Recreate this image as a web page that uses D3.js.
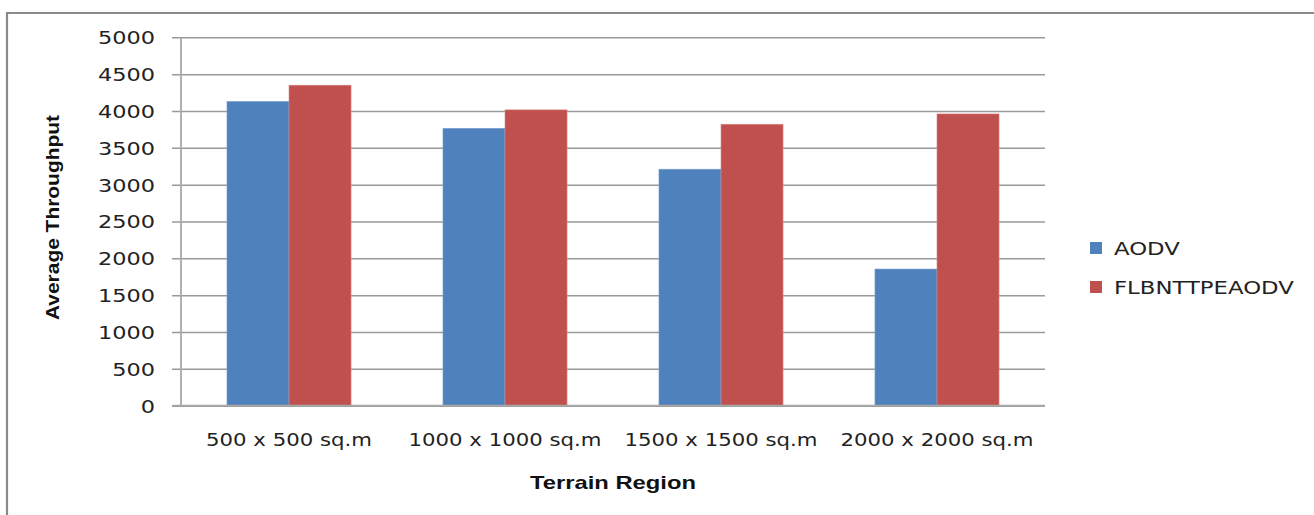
<!DOCTYPE html>
<html>
<head>
<meta charset="utf-8">
<script src="https://cdn.jsdelivr.net/npm/d3@7"></script>
<style>
  html, body { margin: 0; padding: 0; background: #fff; }
  svg { display: block; }
</style>
</head>
<body>
<script>
// Average throughput per terrain size, two routing protocols
const categories = ["500 x 500 sq.m", "1000 x 1000 sq.m", "1500 x 1500 sq.m", "2000 x 2000 sq.m"];
const seriesNames = ["AODV", "FLBNTTPEAODV"];
const aodv = [4130, 3765, 3210, 1855];
const flbnttpeaodv = [4350, 4015, 3820, 3960];
const yTicks = [0, 500, 1000, 1500, 2000, 2500, 3000, 3500, 4000, 4500, 5000];
const colors = ["#4f81bd", "#c0504d"];

const W = 1314, H = 515;
const plot = { left: 181, right: 1045, top: 37.3, bottom: 405.7 };

const svg = d3.select("body").append("svg").attr("width", W).attr("height", H);

// outer chart frame (top and left edges visible)
svg.append("path")
  .attr("d", `M7,${H} L7,13 L${W},13`)
  .attr("fill", "none").attr("stroke", "#8a8a8a").attr("stroke-width", 2.2);

const x0 = d3.scaleBand().domain(categories).range([plot.left, plot.right]).paddingInner(0.4255).paddingOuter(0.2128);
const x1 = d3.scaleBand().domain(seriesNames).range([0, x0.bandwidth()]);
const y = d3.scaleLinear().domain([0, 5000]).range([plot.bottom, plot.top]);

// stretch text horizontally by a factor, keeping the glyph shapes
function stretch(sel, f) {
  sel.each(function () {
    const len = this.getComputedTextLength();
    d3.select(this).attr("textLength", len * f).attr("lengthAdjust", "spacingAndGlyphs");
  });
}

// gridlines + y axis labels
const yAxis = d3.axisLeft(y).tickValues(yTicks).tickFormat(d3.format("d"))
  .tickSize(-(plot.right - plot.left)).tickSizeOuter(0).tickPadding(0);
const gy = svg.append("g").attr("transform", `translate(${plot.left},0)`).call(yAxis);
gy.select(".domain").remove();
gy.selectAll(".tick line")
  .attr("x1", -9).attr("x2", plot.right - plot.left)
  .attr("stroke", "#9a9a9a").attr("stroke-width", 1.5);
gy.selectAll(".tick text")
  .attr("x", -26).attr("dy", "0.36em")
  .attr("fill", "#222").style("font-family", "DejaVu Sans").style("font-size", "18px");
stretch(gy.selectAll(".tick text"), 1.245);

// bars
const groups = svg.append("g").selectAll("g").data(categories).join("g")
  .attr("transform", d => `translate(${x0(d)},0)`);
groups.selectAll("rect")
  .data((d, i) => [aodv[i], flbnttpeaodv[i]].map((v, k) => ({ v, k })))
  .join("rect")
  .attr("x", d => x1(seriesNames[d.k]))
  .attr("y", d => y(d.v))
  .attr("width", x1.bandwidth())
  .attr("height", d => y(0) - y(d.v))
  .attr("fill", d => colors[d.k])
  .attr("stroke", d => d.k === 0 ? "#7ea3d3" : "#dc8886")
  .attr("stroke-width", 0.6);

// vertical axis line and baseline
svg.append("line").attr("x1", plot.left).attr("x2", plot.left).attr("y1", plot.top).attr("y2", plot.bottom)
  .attr("stroke", "#a8a8a8").attr("stroke-width", 1.8);
svg.append("line").attr("x1", plot.left - 9).attr("x2", plot.right).attr("y1", plot.bottom).attr("y2", plot.bottom)
  .attr("stroke", "#a8a8a8").attr("stroke-width", 1.8);

// category labels
const xAxis = d3.axisBottom(x0).tickSize(0).tickPadding(0);
const gx = svg.append("g").attr("transform", `translate(0,${plot.bottom})`).call(xAxis);
gx.select(".domain").remove();
gx.selectAll(".tick text")
  .attr("y", 40).attr("dy", 0)
  .attr("fill", "#222").style("font-family", "DejaVu Sans").style("font-size", "18px");
stretch(gx.selectAll(".tick text"), 1.18);

// axis titles
const xt = svg.append("text")
  .attr("x", (plot.left + plot.right) / 2).attr("y", 489)
  .attr("text-anchor", "middle")
  .style("font-family", "Liberation Sans Narrow, Liberation Sans").style("font-weight", "bold").style("font-size", "19px")
  .attr("fill", "#111").text("Terrain Region");
xt.attr("textLength", 166).attr("lengthAdjust", "spacingAndGlyphs");

const yt = svg.append("text")
  .attr("transform", `translate(59,${(plot.top + plot.bottom) / 2 - 4}) rotate(-90)`)
  .attr("text-anchor", "middle")
  .style("font-family", "Liberation Sans Narrow, Liberation Sans").style("font-weight", "bold").style("font-size", "19px")
  .attr("fill", "#111").text("Average Throughput");
yt.attr("textLength", 205).attr("lengthAdjust", "spacingAndGlyphs");

// legend
const legend = svg.append("g").selectAll("g").data(seriesNames).join("g")
  .attr("transform", (d, i) => `translate(1090,${242 + i * 39})`);
legend.append("rect").attr("width", 12).attr("height", 12).attr("fill", (d, i) => colors[i]);
const lt = legend.append("text")
  .attr("x", 24).attr("y", 12.5)
  .style("font-family", "DejaVu Sans").style("font-size", "18px").attr("fill", "#222")
  .text(d => d);
stretch(lt, 1.265);
</script>
</body>
</html>
